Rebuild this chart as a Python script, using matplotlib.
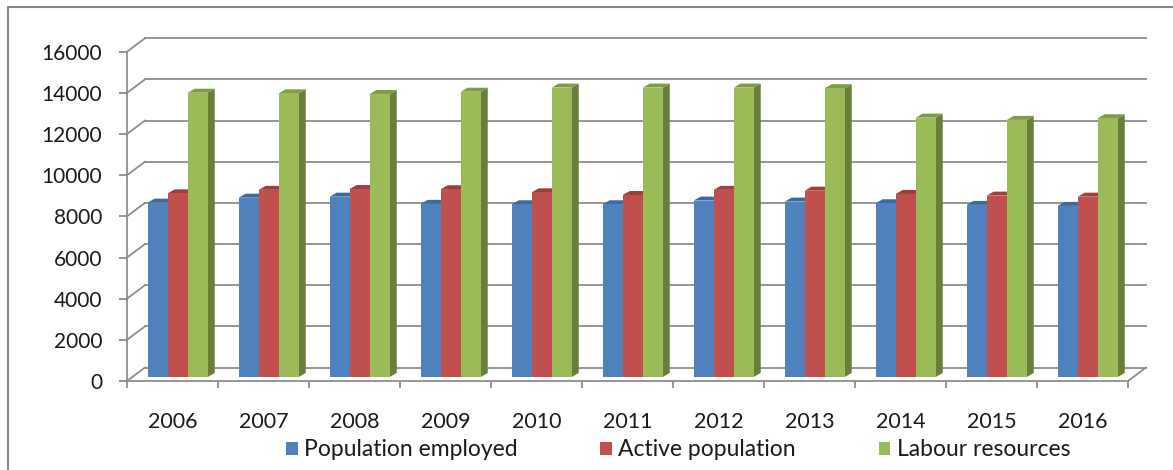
import matplotlib as mpl
mpl.use('Agg')
import matplotlib.pyplot as plt
from matplotlib.patches import Polygon, Rectangle

plt.rcParams['font.family'] = ['Lato', 'DejaVu Sans']

years = ['2006', '2007', '2008', '2009', '2010', '2011', '2012', '2013', '2014', '2015', '2016']
employed = [8470, 8710, 8760, 8410, 8390, 8390, 8570, 8520, 8440, 8360, 8310]
active = [8920, 9090, 9130, 9120, 8970, 8840, 9090, 9050, 8890, 8810, 8760]
labour = [13810, 13780, 13750, 13860, 14060, 14060, 14060, 14030, 12600, 12490, 12570]

series = [employed, active, labour]
names = ['Population employed', 'Active population', 'Labour resources']
front_cols = ['#4f81bd', '#c0504d', '#9bbb59']
top_cols = ['#3d6a9e', '#a03e3b', '#7f9c45']
side_cols = ['#385d8a', '#8c3836', '#687f3a']

grid_col = '#8c8c8c'
fs = 15
fs_leg = 16.5

W, H = 1173., 470.
fig = plt.figure(figsize=(W / 100, H / 100), dpi=100)
ax = fig.add_axes([127 / W, 89 / H, 1001 / W, 329.3 / H])
ax.set_xlim(0, len(years))
ax.set_ylim(0, 16000)

# pseudo 3d geometry (data units)
px_x = 1001. / len(years)
px_y = 329.3 / 16000.
wall_dx = 18 / px_x
wall_dy = 13.5 / px_y
d0 = 0.3
bar_dx = 7 / px_x
bar_dy = 4 / px_y
bar_w = 0.22
bar_off = 0.168

yticks = list(range(0, 16001, 2000))

# back wall gridlines
for v in yticks:
    ax.plot([0, wall_dx], [v, v + wall_dy], color=grid_col, lw=1.3, clip_on=False, zorder=0)
    ax.plot([wall_dx, len(years) + wall_dx], [v + wall_dy, v + wall_dy], color=grid_col,
            lw=1.3, clip_on=False, zorder=0)
ax.plot([len(years), len(years) + wall_dx], [0, wall_dy], color=grid_col, lw=1.3,
        clip_on=False, zorder=0)

handles = []
z = 2
for i in range(len(years)):
    for j in range(3):
        v = series[j][i]
        xl = i + bar_off + j * bar_w + d0 * wall_dx
        xr = xl + bar_w
        base = d0 * wall_dy
        top = v + base
        side = Polygon([(xr, base), (xr + bar_dx, base + bar_dy), (xr + bar_dx, top + bar_dy), (xr, top)],
                       closed=True, fc=side_cols[j], ec='none', zorder=z, clip_on=False)
        ax.add_patch(side)
        lid = Polygon([(xl, top), (xl + bar_dx, top + bar_dy), (xr + bar_dx, top + bar_dy), (xr, top)],
                      closed=True, fc=top_cols[j], ec='none', zorder=z, clip_on=False)
        ax.add_patch(lid)
        b = ax.bar(xl, v, width=bar_w, bottom=base, align='edge', color=front_cols[j],
                   zorder=z + 0.5, clip_on=False)
        if i == 0:
            handles.append(b)
        z += 1

# axes styling
for s in ['top', 'right']:
    ax.spines[s].set_visible(False)
for s in ['left', 'bottom']:
    ax.spines[s].set_color(grid_col)
    ax.spines[s].set_linewidth(1.3)
    ax.spines[s].set_zorder(1)

ax.set_yticks(yticks)
ax.set_yticklabels([str(v) for v in yticks])
ax.tick_params(axis='y', direction='out', length=5.8, width=1.3, color=grid_col,
               pad=12, labelsize=fs, labelcolor='#1a1a1a')

ax.set_xticks(range(len(years) + 1))
ax.set_xticklabels([])
ax.set_xticks([i + 0.5 for i in range(len(years))], minor=True)
ax.set_xticklabels(years, minor=True)
ax.tick_params(axis='x', which='major', direction='out', length=5, width=1.3, color=grid_col)
ax.tick_params(axis='x', which='minor', length=0, pad=22, labelsize=fs + 0.5, labelcolor='#1a1a1a')

fig.legend(handles, names, loc='center', bbox_to_anchor=(678 / W, 1 - 450 / H), ncol=3,
           frameon=False, fontsize=fs_leg, handlelength=0.52, handleheight=0.52,
           handletextpad=0.28, columnspacing=3.6, labelcolor='#1a1a1a')

# chart frame
fig.add_artist(Rectangle((8 / W, -0.1), 2, 1 - 7 / H + 0.1, transform=fig.transFigure,
                         fill=False, ec='#878787', lw=1.5))

fig.savefig('out.png', dpi=100)
